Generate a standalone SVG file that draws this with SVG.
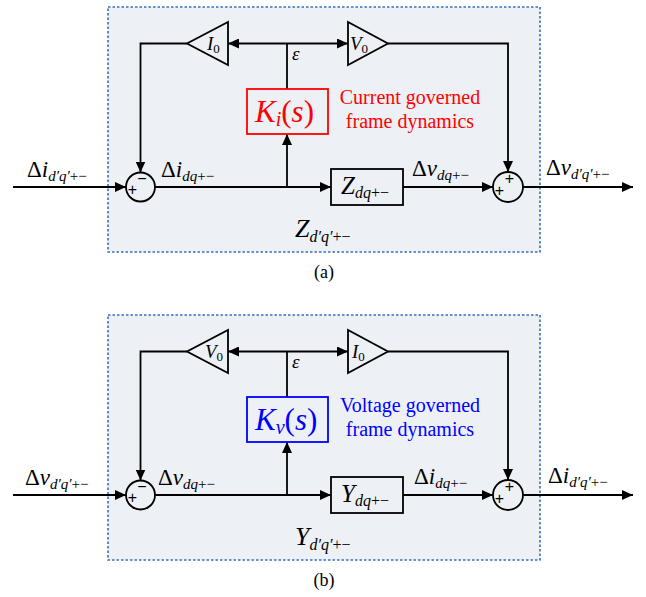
<svg xmlns="http://www.w3.org/2000/svg" width="646" height="597" viewBox="0 0 646 597">
<style>
.frame{fill:#edf0f5;stroke:#3b6fbf;stroke-width:1.6;stroke-dasharray:2.5,2}
.ln{fill:none;stroke:#000;stroke-width:1.8}
.blk{fill:#edf0f5;stroke:#000;stroke-width:1.8}
text{font-family:'Liberation Serif','Times New Roman','DejaVu Serif',serif}
.m{font-style:italic;fill:#000}
.u{font-style:normal;fill:#000}
.sg{font-family:'Liberation Sans','DejaVu Sans',sans-serif;font-size:16px;fill:#000;text-anchor:middle;dominant-baseline:central}
.cap{font-size:18px;fill:#000;text-anchor:middle}
.note{font-size:20px;text-anchor:middle}
</style>
<defs>
<marker id="ah" markerUnits="userSpaceOnUse" markerWidth="12" markerHeight="10" refX="11" refY="5" orient="auto">
<path d="M0,0 L11,5 L0,10 z" fill="#000"/>
</marker>
</defs>

<!-- Panel A -->
<g id="panelA">
<rect id="frameA" class="frame" x="108" y="7" width="432" height="245"/>
<g id="connA" class="ln">
<path d="M13,187 H126" marker-end="url(#ah)"/>
<path d="M155,187 H331" marker-end="url(#ah)"/>
<path d="M403,187 H493" marker-end="url(#ah)"/>
<path d="M523,187 H633" marker-end="url(#ah)"/>
<path d="M287,187 V134" marker-end="url(#ah)"/>
<path d="M287,89 V43.5"/>
<path d="M287,43.5 H228" marker-end="url(#ah)"/>
<path d="M287,43.5 H348" marker-end="url(#ah)"/>
<path d="M187,43.5 H140.5 V172.5" marker-end="url(#ah)"/>
<path d="M388,43.5 H508 V172" marker-end="url(#ah)"/>
</g>
<g id="sumA1">
<circle class="blk" cx="140.5" cy="187" r="14.5"/>
<text class="sg" x="132.5" y="189">+</text>
<text class="sg" x="142" y="178">−</text>
</g>
<g id="sumA2">
<circle class="blk" cx="508" cy="187" r="15"/>
<text class="sg" x="499.5" y="190">+</text>
<text class="sg" x="509.5" y="178.5">+</text>
</g>
<g id="gainA1">
<polygon class="blk" points="228,22 228,65 187,43.5"/>
<text class="m" x="207" y="50" font-size="19">I<tspan class="u" font-size="13" dy="3">0</tspan></text>
</g>
<g id="gainA2">
<polygon class="blk" points="348,22 348,65 388,43.5"/>
<text class="m" x="350" y="50" font-size="19">V<tspan class="u" font-size="13" dy="3">0</tspan></text>
</g>
<g id="kA">
<rect x="247" y="89" width="81" height="45" fill="#edf0f5" stroke="#ff0000" stroke-width="1.8"/>
<text class="m" x="255" y="122" font-size="31" style="fill:#ff0000">K<tspan font-size="20" dy="4">i</tspan><tspan class="u" dy="-4" style="fill:#ff0000">(</tspan>s<tspan class="u" style="fill:#ff0000">)</tspan></text>
</g>
<g id="zA">
<rect class="blk" x="331" y="169" width="72" height="36"/>
<text class="m" x="341" y="194" font-size="25">Z<tspan font-size="16" dy="4">dq</tspan><tspan class="u" font-size="16">+−</tspan></text>
</g>
<text class="note" x="410" y="104" fill="#ff0000">Current governed</text>
<text class="note" x="410" y="128" fill="#ff0000">frame dynamics</text>
<text class="m" x="292" y="60" font-size="19">ε</text>
<text class="u" x="27" y="177" font-size="23">Δ<tspan class="m">i</tspan><tspan class="m" font-size="15" dy="4">d′q′</tspan><tspan font-size="15">+−</tspan></text>
<text class="u" x="161" y="177" font-size="23">Δ<tspan class="m">i</tspan><tspan class="m" font-size="15" dy="4">dq</tspan><tspan font-size="15">+−</tspan></text>
<text class="u" x="412" y="176" font-size="23">Δ<tspan class="m">v</tspan><tspan class="m" font-size="15" dy="4">dq</tspan><tspan font-size="15">+−</tspan></text>
<text class="u" x="546" y="175" font-size="23">Δ<tspan class="m">v</tspan><tspan class="m" font-size="15" dy="4">d′q′</tspan><tspan font-size="15">+−</tspan></text>
<text class="m" x="295" y="237" font-size="26">Z<tspan font-size="16" dy="5">d′q′</tspan><tspan class="u" font-size="16">+−</tspan></text>
<text class="cap" x="324" y="278">(a)</text>
</g>

<!-- Panel B -->
<g id="panelB" transform="translate(0,308)">
<rect id="frameB" class="frame" x="108" y="7" width="432" height="245"/>
<g id="connB" class="ln">
<path d="M13,187 H126" marker-end="url(#ah)"/>
<path d="M155,187 H331" marker-end="url(#ah)"/>
<path d="M403,187 H493" marker-end="url(#ah)"/>
<path d="M523,187 H633" marker-end="url(#ah)"/>
<path d="M287,187 V134" marker-end="url(#ah)"/>
<path d="M287,89 V43.5"/>
<path d="M287,43.5 H228" marker-end="url(#ah)"/>
<path d="M287,43.5 H348" marker-end="url(#ah)"/>
<path d="M187,43.5 H140.5 V172.5" marker-end="url(#ah)"/>
<path d="M388,43.5 H508 V172" marker-end="url(#ah)"/>
</g>
<g id="sumB1">
<circle class="blk" cx="140.5" cy="187" r="14.5"/>
<text class="sg" x="132.5" y="189">+</text>
<text class="sg" x="142" y="178">−</text>
</g>
<g id="sumB2">
<circle class="blk" cx="508" cy="187" r="15"/>
<text class="sg" x="499.5" y="190">+</text>
<text class="sg" x="509.5" y="178.5">+</text>
</g>
<g id="gainB1">
<polygon class="blk" points="228,22 228,65 187,43.5"/>
<text class="m" x="205" y="50" font-size="19">V<tspan class="u" font-size="13" dy="3">0</tspan></text>
</g>
<g id="gainB2">
<polygon class="blk" points="348,22 348,65 388,43.5"/>
<text class="m" x="352" y="50" font-size="19">I<tspan class="u" font-size="13" dy="3">0</tspan></text>
</g>
<g id="kB">
<rect x="247" y="89" width="81" height="45" fill="#edf0f5" stroke="#0000ff" stroke-width="1.8"/>
<text class="m" x="255" y="122" font-size="31" style="fill:#0000ff">K<tspan font-size="20" dy="4">v</tspan><tspan class="u" dy="-4" style="fill:#0000ff">(</tspan>s<tspan class="u" style="fill:#0000ff">)</tspan></text>
</g>
<g id="yB">
<rect class="blk" x="331" y="169" width="72" height="36"/>
<text class="m" x="341" y="194" font-size="25">Y<tspan font-size="16" dy="4">dq</tspan><tspan class="u" font-size="16">+−</tspan></text>
</g>
<text class="note" x="410" y="104" fill="#0000ff">Voltage governed</text>
<text class="note" x="410" y="128" fill="#0000ff">frame dynamics</text>
<text class="m" x="292" y="60" font-size="19">ε</text>
<text class="u" x="25" y="177" font-size="23">Δ<tspan class="m">v</tspan><tspan class="m" font-size="15" dy="4">d′q′</tspan><tspan font-size="15">+−</tspan></text>
<text class="u" x="158" y="177" font-size="23">Δ<tspan class="m">v</tspan><tspan class="m" font-size="15" dy="4">dq</tspan><tspan font-size="15">+−</tspan></text>
<text class="u" x="414" y="176" font-size="23">Δ<tspan class="m">i</tspan><tspan class="m" font-size="15" dy="4">dq</tspan><tspan font-size="15">+−</tspan></text>
<text class="u" x="548" y="175" font-size="23">Δ<tspan class="m">i</tspan><tspan class="m" font-size="15" dy="4">d′q′</tspan><tspan font-size="15">+−</tspan></text>
<text class="m" x="295" y="237" font-size="26">Y<tspan font-size="16" dy="5">d′q′</tspan><tspan class="u" font-size="16">+−</tspan></text>
<text class="cap" x="324" y="278">(b)</text>
</g>
</svg>
